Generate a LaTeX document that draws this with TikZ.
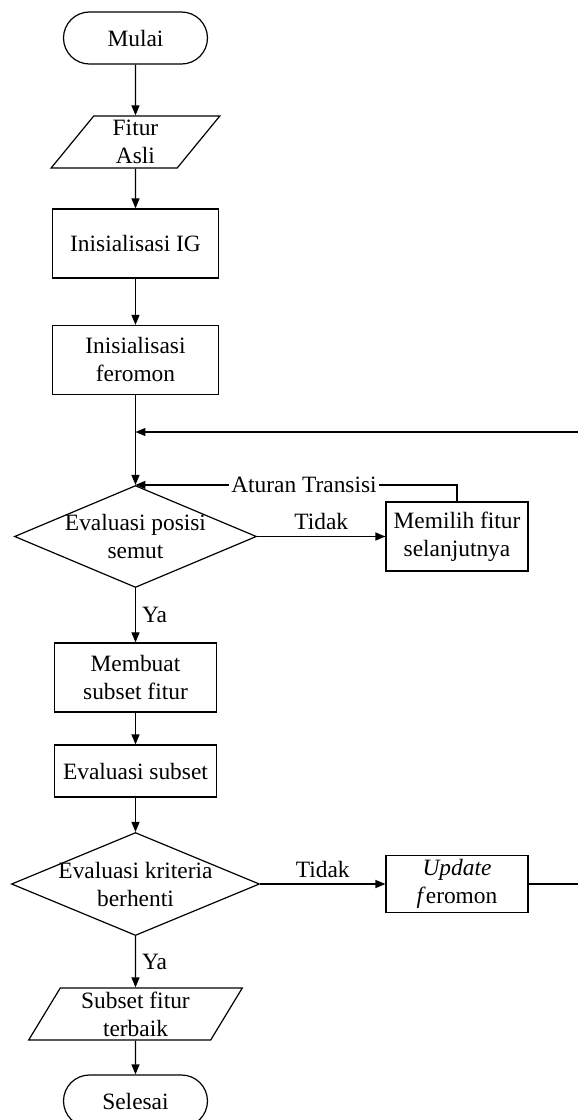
\documentclass[tikz,border=0pt]{standalone}
\usepackage{fontspec}
\setmainfont{Liberation Serif}
\usetikzlibrary{arrows.meta, positioning, shapes.geometric}
\tikzset{
  every picture/.style={line width=0.6pt, font=\fontsize{11.7}{14}\selectfont},
  term/.style={draw, rounded corners=0.457cm, minimum width=2.53cm, minimum height=0.914cm},
  io/.style={draw, trapezium, trapezium stretches=true, trapezium left angle=62, trapezium right angle=118, align=center, inner sep=0pt, minimum height=0.914cm},
  box/.style={draw, align=center, inner sep=2pt, minimum width=#1, minimum height=1.213cm},
  box/.default=2.917cm,
  decision/.style={draw, diamond, align=center, inner sep=0pt, inner xsep=-1.4cm},
  arrow/.style={-{Triangle[length=5pt, width=4pt]}},
  lbl/.style={inner sep=3pt},
}
\begin{document}
\begin{tikzpicture}
  \useasboundingbox (-2.381,0) rectangle (7.776,-19.682);
  \clip (-2.381,0) rectangle (7.776,-19.682);
  % main column
  \node[term] (start) at (0,-0.668) {Mulai};
  \node[io, minimum width=2.97cm] (fitur) at (0,-2.495) {Fitur\\Asli};
  \node[box] (ig) at (0,-4.279) {Inisialisasi IG};
  \node[box] (ifer) at (0,-6.326) {Inisialisasi\\feromon};
  \coordinate (join) at (0,-7.592);
  \node[decision, minimum width=4.253cm, minimum height=1.792cm] (eval1) at (0,-9.428) {Evaluasi posisi\\semut};
  \node[box=2.495cm] (pilih) at (5.65,-9.428) {Memilih fitur\\selanjutnya};
  \node[box=2.847cm] (subset) at (0,-11.906) {Membuat\\subset fitur};
  \node[box=2.847cm, minimum height=0.914cm] (evsub) at (0,-13.549) {Evaluasi subset};
  \node[decision, minimum width=4.358cm, minimum height=1.81cm] (eval2) at (0,-15.535) {Evaluasi kriteria\\berhenti};
  \node[box=2.495cm, minimum height=0.914cm] (upd) at (5.65,-15.535) {\textit{Update}\\\textit{f}eromon};
  \node[io, trapezium left angle=63, trapezium right angle=117, minimum width=3.778cm] (best) at (0,-17.819) {Subset fitur\\terbaik};
  \node[term] (end) at (0,-19.348) {Selesai};
  % connectors
  \draw[arrow] (start) -- (fitur);
  \draw[arrow] (fitur) -- (ig);
  \draw[arrow] (ig) -- (ifer);
  \draw[arrow] (ifer) -- (eval1);
  \draw[arrow] (eval1) -- node[lbl, above] {Tidak} (pilih);
  \draw[arrow] (pilih.north) |- node[pos=0.738, fill=white, inner sep=1pt] {Aturan Transisi} (eval1.north);
  \draw[arrow] (eval1) -- node[lbl, right] {Ya} (subset);
  \draw[arrow] (subset) -- (evsub);
  \draw[arrow] (evsub) -- (eval2);
  \draw[arrow] (eval2) -- node[lbl, above] {Tidak} (upd);
  \draw[arrow] (upd.east) -- ++(1.2,0) |- (join);
  \draw[arrow] (eval2) -- node[lbl, right] {Ya} (best);
  \draw[arrow] (best) -- (end);
\end{tikzpicture}
\end{document}
